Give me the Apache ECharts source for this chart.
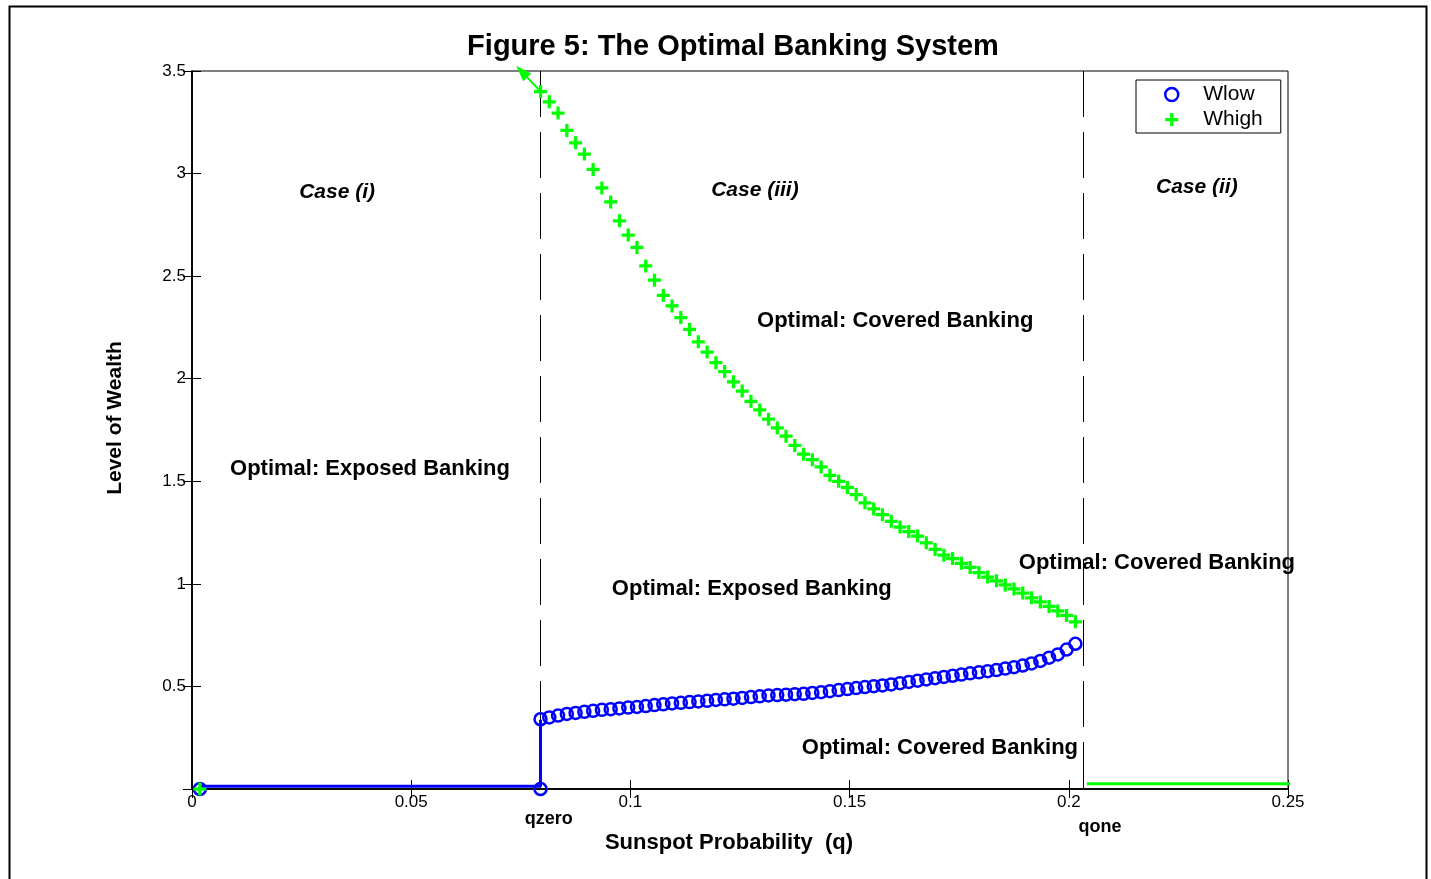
<!DOCTYPE html>
<html><head><meta charset="utf-8">
<script src="https://cdn.jsdelivr.net/npm/echarts@6/dist/echarts.min.js"></script>
<style>html,body{margin:0;padding:0;background:#fff}#c{width:1431px;height:879px}</style>
</head><body><div id="c"></div>
<script>
// ---- data ----
const xTicks = [0, 0.05, 0.1, 0.15, 0.2, 0.25];
const yTicks = [0.5, 1, 1.5, 2, 2.5, 3, 3.5];
const qZero = 0.0795;
const qOne = 0.2032;
const qGrid = [
  0.0795,0.0815,0.0835,0.0855,0.0875,0.0895,0.0915,0.0935,0.0955,0.0975,
  0.0995,0.1015,0.1035,0.1055,0.1075,0.1095,0.1115,0.1135,0.1155,0.1175,
  0.1195,0.1215,0.1235,0.1255,0.1275,0.1295,0.1315,0.1335,0.1355,0.1375,
  0.1395,0.1415,0.1435,0.1455,0.1475,0.1495,0.1515,0.1535,0.1555,0.1575,
  0.1595,0.1615,0.1635,0.1655,0.1675,0.1695,0.1715,0.1735,0.1755,0.1775,
  0.1795,0.1815,0.1835,0.1855,0.1875,0.1895,0.1915,0.1935,0.1955,0.1975,
  0.1995,0.2015];
const wLow = [
  0.340,0.349,0.358,0.366,0.371,0.376,0.381,0.386,0.389,0.393,
  0.397,0.400,0.404,0.409,0.413,0.417,0.420,0.424,0.427,0.430,
  0.434,0.437,0.440,0.444,0.448,0.452,0.456,0.458,0.460,0.462,
  0.464,0.468,0.472,0.477,0.482,0.487,0.492,0.497,0.501,0.505,
  0.510,0.516,0.522,0.528,0.534,0.540,0.546,0.552,0.558,0.564,
  0.569,0.574,0.580,0.587,0.594,0.602,0.612,0.624,0.640,0.656,
  0.680,0.708];
const wHigh = [
  3.40,3.35,3.295,3.21,3.15,3.095,3.02,2.93,2.862,2.77,
  2.70,2.64,2.55,2.48,2.406,2.355,2.298,2.24,2.18,2.13,
  2.078,2.035,1.985,1.94,1.89,1.848,1.803,1.76,1.72,1.675,
  1.632,1.605,1.57,1.529,1.50,1.47,1.435,1.395,1.365,1.337,
  1.305,1.277,1.255,1.233,1.20,1.168,1.14,1.123,1.10,1.08,
  1.055,1.033,1.015,0.995,0.975,0.955,0.932,0.912,0.89,0.868,
  0.846,0.815];
const wLowZeroPts = [[0.0018, 0], [0.0795, 0]];
const wHighZeroPts = [[0.0018, 0]];
const wLowPath = [[0.0018, 0.014], [0.0795, 0.014], [0.0795, 0.338]];
const wHighPath = [[0.2041, 0.026], [0.2524, 0.026]];
const arrowPts = [[0.0798, 3.394], [0.0752, 3.497]];
const caseNotes = [['Case (i)', 0.0331, 2.908], ['Case (iii)', 0.1284, 2.918], ['Case (ii)', 0.2292, 2.933]];
const regionNotes = [
  ['Optimal: Covered Banking', 0.1604, 2.284],
  ['Optimal: Exposed Banking', 0.0406, 1.558],
  ['Optimal: Covered Banking', 0.2201, 1.100],
  ['Optimal: Exposed Banking', 0.1277, 0.973],
  ['Optimal: Covered Banking', 0.1706, 0.198]];
const qMarks = [['qzero', 0.0814, -0.148], ['qone', 0.2071, -0.183]];

// ---- build ----
const FONT = 'Liberation Sans, Arial, Helvetica, sans-serif';
const PLUS = 'path://M3.75,0h2.5v3.75h3.75v2.5h-3.75v3.75h-2.5v-3.75h-3.75v-2.5h3.75z';
const zip = (xs, ys) => xs.map((x, i) => [x, ys[i]]);
const notes = arr => arr.map(d => [d[1], d[2], d[0]]);
const labelSeries = (arr, style) => ({
  type: 'scatter', data: notes(arr), symbolSize: 0, clip: false, silent: true, z: 20,
  itemStyle: {opacity: 1},
  label: Object.assign({show: true, position: 'inside', color: '#000', opacity: 1, fontFamily: FONT,
    textBorderWidth: 0, formatter: p => p.value[2]}, style)
});
const xBase = {type: 'value', min: xTicks[0], max: xTicks[xTicks.length - 1], interval: 0.05,
  splitLine: {show: false}};
const yBase = {type: 'value', min: 0, max: yTicks[yTicks.length - 1], interval: 0.5,
  splitLine: {show: false}};

const chart = echarts.init(document.getElementById('c'), null, {renderer: 'canvas'});
chart.setOption({
  backgroundColor: '#fff',
  animation: false,
  textStyle: {fontFamily: FONT},
  grid: {left: 192, right: 143, top: 71, bottom: 90, show: true, borderColor: '#000', borderWidth: 1},
  legend: {
    orient: 'vertical', left: 1136, top: 80,
    padding: [2, 18, 1, 28], itemGap: 0, itemWidth: 13, itemHeight: 13,
    borderColor: '#000', borderWidth: 1, backgroundColor: '#fff',
    textStyle: {fontSize: 21, color: '#000', fontFamily: FONT, lineHeight: 25, padding: [0, 0, 0, 20]},
    data: [
      {name: 'Wlow', icon: 'circle', itemStyle: {color: 'rgba(0,0,0,0)', borderColor: '#0000ff', borderWidth: 2.5, opacity: 1}},
      {name: 'Whigh', icon: PLUS, itemStyle: {color: '#00ff00', borderWidth: 0, opacity: 1}}
    ]
  },
  xAxis: [
    Object.assign({}, xBase, {position: 'bottom',
      name: 'Sunspot Probability  (q)', nameLocation: 'middle', nameGap: 43,
      nameTextStyle: {fontSize: 22, fontWeight: 'bold', color: '#000', padding: [0, 22, 0, 0]},
      axisLine: {show: true, lineStyle: {color: '#000', width: 1.5}},
      axisTick: {show: true, inside: true, length: 9, lineStyle: {color: '#000'}},
      axisLabel: {show: true, fontSize: 17, color: '#000', margin: 5}}),
    Object.assign({}, xBase, {position: 'top',
      axisLine: {show: true, lineStyle: {color: '#000', width: 1.5}},
      axisTick: {show: true, inside: true, length: 9, lineStyle: {color: '#000'}},
      axisLabel: {show: false}})
  ],
  yAxis: [
    Object.assign({}, yBase, {position: 'left',
      name: 'Level of Wealth', nameLocation: 'middle', nameGap: 66,
      nameTextStyle: {fontSize: 21, fontWeight: 'bold', color: '#000', padding: [0, 0, 0, 24]},
      axisLine: {show: true, lineStyle: {color: '#000', width: 1.5}},
      axisTick: {show: true, inside: true, length: 9, lineStyle: {color: '#000'}},
      axisLabel: {show: true, fontSize: 17, color: '#000', margin: 6,
        formatter: v => (yTicks.indexOf(v) >= 0 ? String(v) : '')}}),
    Object.assign({}, yBase, {position: 'right',
      axisLine: {show: true, lineStyle: {color: '#000', width: 1.5}},
      axisTick: {show: true, inside: true, length: 9, lineStyle: {color: '#000'}},
      axisLabel: {show: false}})
  ],
  graphic: [
    {type: 'rect', left: 7, top: 4, shape: {width: 1417, height: 900}, silent: true, z: -1,
      style: {fill: 'none', stroke: '#000', lineWidth: 2}},
    {type: 'text', x: 733, y: 47, silent: true, z: 30,
      style: {text: 'Figure 5: The Optimal Banking System', font: 'bold 29px ' + FONT,
        fill: '#000', textAlign: 'center', textVerticalAlign: 'middle'}}
  ],
  series: [
    {
      name: 'boundaries', type: 'line', data: [], silent: true, z: 1,
      markLine: {
        z: 1, silent: true, symbol: ['none', 'none'], label: {show: false}, animation: false,
        lineStyle: {color: '#000', width: 1, type: [46, 15]},
        data: [
          [{coord: [qZero, 3.5]}, {coord: [qZero, 0]}],
          [{coord: [qOne, 3.5]}, {coord: [qOne, 0]}]
        ]
      }
    },
    {
      name: 'arrow', type: 'line', data: [], silent: true, z: 4,
      markLine: {
        z: 4, silent: true, symbol: ['none', 'triangle'], symbolSize: [11, 16], label: {show: false},
        animation: false,
        lineStyle: {color: '#00ff00', width: 2, type: 'solid', opacity: 1},
        data: [[{coord: arrowPts[0]}, {coord: arrowPts[1]}]]
      }
    },
    {
      name: 'WlowPath', type: 'line', data: wLowPath, symbol: 'none', silent: true, z: 3,
      lineStyle: {color: '#0000ff', width: 3}
    },
    {
      name: 'WhighPath', type: 'line', data: wHighPath, symbol: 'none', silent: true, clip: false, z: 3,
      lineStyle: {color: '#00ff00', width: 3}
    },
    {
      name: 'Wlow', type: 'scatter', clip: false, z: 5,
      data: wLowZeroPts.concat(zip(qGrid, wLow)),
      symbol: 'circle', symbolSize: 12,
      itemStyle: {color: 'rgba(0,0,0,0)', borderColor: '#0000ff', borderWidth: 2.5, opacity: 1}
    },
    {
      name: 'Whigh', type: 'scatter', clip: false, z: 6,
      data: wHighZeroPts.concat(zip(qGrid, wHigh)),
      symbol: PLUS, symbolSize: 13,
      itemStyle: {color: '#00ff00', opacity: 1}
    },
    labelSeries(caseNotes, {fontSize: 21, fontWeight: 'bold', fontStyle: 'italic'}),
    labelSeries(regionNotes, {fontSize: 22, fontWeight: 'bold'}),
    labelSeries(qMarks, {fontSize: 18, fontWeight: 'bold'})
  ]
});
</script></body></html>
